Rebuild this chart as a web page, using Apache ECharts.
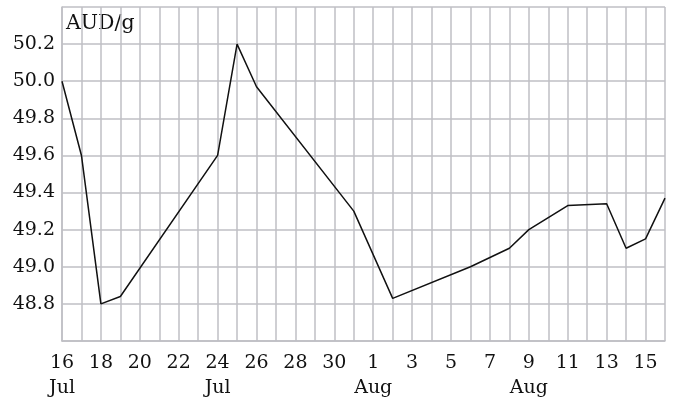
<!DOCTYPE html>
<html>
<head>
<meta charset="utf-8">
<script src="https://cdn.jsdelivr.net/npm/echarts@6/dist/echarts.min.js"></script>
<style>
  html, body { margin: 0; padding: 0; background: #fff; }
  #chart { width: 678px; height: 401px; }
</style>
</head>
<body>
<div id="chart"></div>
<script>
// days from 16 Jul to 16 Aug
var dayNums = [16, 17, 18, 19, 20, 21, 22, 23, 24, 25, 26, 27, 28, 29, 30, 31,
  1, 2, 3, 4, 5, 6, 7, 8, 9, 10, 11, 12, 13, 14, 15, 16]
// month name shown under some labels
var monthLabels = { 0: 'Jul', 8: 'Jul', 16: 'Aug', 24: 'Aug' }
// AUD per gram, null = no quote that day
var prices = [50.0, 49.6, 48.8, 48.84, null, null, null, null, 49.6, 50.2, 49.97, null, null, null, null, 49.3,
  null, 48.83, null, null, null, 49.0, null, 49.1, 49.2, null, 49.33, null, 49.34, 49.1, 49.15, 49.37]

var categories = dayNums.map(function (d, i) {
  return monthLabels[i] ? d + '\n' + monthLabels[i] : String(d)
})

var font = 'DejaVu Serif'
var gridColor = '#bfbfc4'
var myChart = echarts.init(document.getElementById('chart'))
var option = {
  animation: false,
  grid: { left: 62, right: 13, top: 7, bottom: 54 },
  graphic: [{
    type: 'text',
    left: 66,
    top: 13,
    style: { text: 'AUD/g', font: '20.5px "' + font + '"', fill: '#111' }
  }],
  xAxis: {
    type: 'category',
    data: categories,
    boundaryGap: false,
    axisLine: { show: true, lineStyle: { color: gridColor, width: 1.5 } },
    axisTick: { show: false },
    axisLabel: {
      interval: 1,
      margin: 10,
      fontFamily: font,
      fontSize: 19,
      lineHeight: 25,
      color: '#111',
      verticalAlign: 'top'
    },
    splitLine: { show: true, interval: 0, lineStyle: { color: gridColor, width: 1.5 } }
  },
  yAxis: {
    type: 'value',
    min: 48.6,
    max: 50.4,
    interval: 0.2,
    axisLine: { show: true, lineStyle: { color: gridColor, width: 1.5 } },
    axisTick: { show: false },
    axisLabel: {
      margin: 7,
      fontFamily: font,
      fontSize: 19,
      color: '#111',
      formatter: function (v) {
        if (v < 48.7 || v > 50.3) return ''
        return v.toFixed(1)
      }
    },
    splitLine: { lineStyle: { color: gridColor, width: 1.5 } }
  },
  series: [{
    type: 'line',
    data: prices,
    connectNulls: true,
    showSymbol: false,
    lineStyle: { color: '#111', width: 1.5 }
  }]
}
myChart.setOption(option)
</script>
</body>
</html>
